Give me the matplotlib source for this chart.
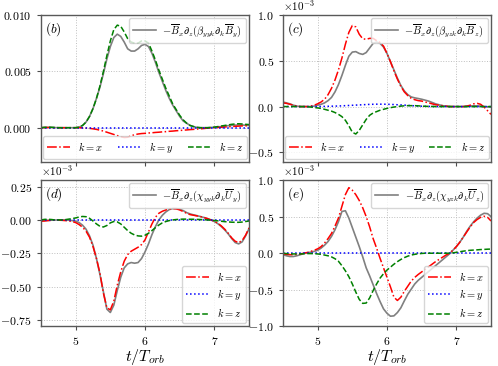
import numpy as np
import matplotlib
matplotlib.use("Agg")
import matplotlib.pyplot as plt
from matplotlib.ticker import MultipleLocator

plt.rcParams['font.family'] = 'serif'
plt.rcParams['font.serif'] = ['cmr10', 'DejaVu Serif']
plt.rcParams['mathtext.fontset'] = 'cm'
plt.rcParams['axes.formatter.use_mathtext'] = True

# time grid (t / T_orb), step 0.05
t = np.linspace(4.5, 7.5, 61)

# ---- panel (b)  (raw values)
b_total = [0.0, 0.00002, 0.00003, 0.00002, 0.00001, 0.0, 0.0, 0.0, 0.0, 0.0,
           0.0, 0.00005, 0.0002, 0.0005, 0.0010, 0.0017, 0.0026, 0.0036, 0.0048, 0.0061,
           0.0072, 0.0080, 0.0083, 0.0081, 0.0076, 0.0070, 0.0068, 0.0068, 0.0070, 0.0073,
           0.0074, 0.0072, 0.0066, 0.0058, 0.0049, 0.0041, 0.0033, 0.0026, 0.0020, 0.0015,
           0.0010, 0.0006, 0.0004, 0.0002, 0.0001, 0.00002, 0.0, 0.0, 0.0, 0.00002,
           0.00004, 0.00007, 0.0001, 0.00014, 0.00018, 0.00021, 0.00023, 0.00024, 0.00024, 0.00022,
           0.0002]
b_kx = [0.0, 0.00001, 0.00002, 0.00001, 0.0, 0.0, 0.0, 0.0, 0.0, 0.0,
        0.0, 0.0, -0.00001, -0.00003, -0.00006, -0.0001, -0.00015, -0.00022, -0.0003, -0.0004,
        -0.0005, -0.0006, -0.0007, -0.0008, -0.00087, -0.00085, -0.00072, -0.00062, -0.00056, -0.00052,
        -0.0005, -0.00047, -0.00045, -0.00042, -0.0004, -0.00037, -0.00035, -0.00032, -0.0003, -0.00027,
        -0.00025, -0.00022, -0.0002, -0.00017, -0.00015, -0.00012, -0.0001, -0.00007, -0.00004, -0.00002,
        0.0, 0.00002, 0.00004, 0.00006, 0.00008, 0.0001, 0.00012, 0.00014, 0.00016, 0.00017,
        0.00018]
b_ky = [0.0] * 61
b_kz = [0.0, 0.00003, 0.00005, 0.00004, 0.00002, 0.0, 0.0, 0.0, 0.0, 0.0,
        0.0, 0.00005, 0.0002, 0.0005, 0.0010, 0.0017, 0.0026, 0.0037, 0.0050, 0.0064,
        0.0077, 0.0087, 0.0091, 0.0090, 0.0085, 0.0079, 0.0076, 0.0075, 0.0075, 0.0077,
        0.0077, 0.0075, 0.0068, 0.0060, 0.0051, 0.0043, 0.0035, 0.0028, 0.0021, 0.0016,
        0.0011, 0.0007, 0.0004, 0.0002, 0.0001, 0.00003, 0.0, 0.0, 0.0, 0.00002,
        0.00005, 0.0001, 0.00015, 0.0002, 0.00025, 0.0003, 0.00033, 0.00035, 0.00033, 0.0003,
        0.00028]

# ---- panel (c)  (units of 1e-3)
c_total = [0.05, 0.04, 0.03, 0.015, 0.005, 0.0, 0.0, 0.0, 0.0, 0.005,
           0.015, 0.025, 0.04, 0.065, 0.10, 0.16, 0.24, 0.34, 0.45, 0.55,
           0.595, 0.60, 0.58, 0.57, 0.59, 0.64, 0.69, 0.705, 0.69, 0.65,
           0.58, 0.49, 0.40, 0.31, 0.23, 0.17, 0.13, 0.105, 0.095, 0.088,
           0.08, 0.07, 0.06, 0.045, 0.03, 0.02, 0.01, 0.005, 0.0, 0.0,
           0.0, 0.0, 0.0, 0.003, 0.006, 0.008, 0.008, 0.005, 0.0, -0.003,
           -0.005]
c_kx = [0.04, 0.035, 0.025, 0.015, 0.005, 0.0, 0.0, 0.0, 0.005, 0.015,
        0.03, 0.05, 0.08, 0.13, 0.20, 0.29, 0.40, 0.53, 0.68, 0.81,
        0.885, 0.87, 0.79, 0.74, 0.735, 0.745, 0.745, 0.72, 0.70, 0.66,
        0.58, 0.49, 0.39, 0.30, 0.22, 0.16, 0.12, 0.09, 0.075, 0.065,
        0.06, 0.05, 0.04, 0.03, 0.02, 0.015, 0.01, 0.005, 0.0, 0.0,
        0.0, 0.0, 0.0, 0.005, 0.015, 0.03, 0.035, 0.025, -0.005, -0.045,
        -0.085]
c_ky = [0.0, 0.0, 0.0, 0.0, 0.0, 0.0, 0.0, 0.0, 0.0, 0.0,
        0.0, 0.001, 0.002, 0.003, 0.004, 0.005, 0.006, 0.008, 0.01, 0.012,
        0.014, 0.016, 0.018, 0.02, 0.022, 0.024, 0.025, 0.026, 0.026, 0.026,
        0.025, 0.024, 0.022, 0.02, 0.018, 0.016, 0.013, 0.01, 0.008, 0.006,
        0.004, 0.003, 0.002, 0.001, 0.0, 0.0, 0.0, 0.0, 0.0, 0.0,
        0.0, 0.0, 0.0, 0.0, 0.0, 0.0, 0.0, 0.0, 0.0, 0.0,
        0.0]
c_kz = [0.0, 0.0, 0.0, 0.0, 0.0, 0.0, 0.0, -0.002, -0.005, -0.01,
        -0.015, -0.02, -0.03, -0.04, -0.05, -0.065, -0.085, -0.11, -0.15, -0.21,
        -0.28, -0.30, -0.26, -0.20, -0.14, -0.095, -0.07, -0.055, -0.04, -0.03,
        -0.02, -0.012, -0.005, 0.0, 0.005, 0.008, 0.01, 0.01, 0.01, 0.008,
        0.005, 0.003, 0.002, 0.001, 0.0, 0.0, 0.0, 0.0, 0.0, 0.0,
        0.0, 0.0, 0.0, 0.0, 0.0, 0.0, 0.0, 0.0, 0.0, 0.0,
        0.0]

# ---- panel (d)  (units of 1e-3)
d_total = [-0.005, -0.004, -0.003, -0.002, -0.001, 0.0, 0.0, 0.0, -0.002, -0.005,
           -0.01, -0.02, -0.04, -0.07, -0.12, -0.19, -0.29, -0.41, -0.54, -0.67,
           -0.695, -0.64, -0.53, -0.43, -0.36, -0.33, -0.32, -0.325, -0.32, -0.29,
           -0.24, -0.18, -0.11, -0.05, 0.0, 0.035, 0.06, 0.078, 0.085, 0.085,
           0.08, 0.07, 0.055, 0.045, 0.038, 0.032, 0.025, 0.018, 0.01, 0.0,
           -0.012, -0.028, -0.05, -0.075, -0.105, -0.14, -0.17, -0.18, -0.165, -0.12,
           -0.065]
d_kx = [-0.01, -0.008, -0.005, -0.003, -0.002, -0.002, -0.003, -0.005, -0.008, -0.012,
        -0.02, -0.035, -0.055, -0.085, -0.13, -0.2, -0.29, -0.4, -0.55, -0.66,
        -0.675, -0.61, -0.49, -0.39, -0.31, -0.26, -0.235, -0.22, -0.205, -0.185,
        -0.15, -0.09, -0.03, 0.02, 0.05, 0.065, 0.075, 0.082, 0.085, 0.083,
        0.075, 0.063, 0.05, 0.04, 0.035, 0.03, 0.025, 0.018, 0.01, 0.0,
        -0.01, -0.025, -0.045, -0.07, -0.1, -0.135, -0.16, -0.17, -0.155, -0.115,
        -0.06]
d_ky = [0.0] * 61
d_kz = [0.0, 0.004, 0.005, 0.003, 0.0, 0.0, 0.0, 0.002, 0.006, 0.01,
        0.015, 0.022, 0.026, 0.024, 0.012, -0.008, -0.03, -0.048, -0.053, -0.042,
        -0.022, -0.012, -0.015, -0.03, -0.055, -0.08, -0.1, -0.113, -0.12, -0.122,
        -0.115, -0.1, -0.08, -0.058, -0.038, -0.022, -0.012, -0.005, 0.0, 0.003,
        0.005, 0.006, 0.006, 0.005, 0.005, 0.004, 0.003, 0.002, 0.0, -0.002,
        -0.004, -0.007, -0.01, -0.013, -0.015, -0.017, -0.018, -0.018, -0.016, -0.012,
        -0.008]

# ---- panel (e)  (units of 1e-3)
e_total = [-0.02, -0.035, -0.045, -0.045, -0.035, -0.02, -0.005, 0.005, 0.015, 0.025,
           0.04, 0.07, 0.11, 0.16, 0.23, 0.32, 0.43, 0.57, 0.58, 0.48,
           0.35, 0.22, 0.09, -0.05, -0.2, -0.31, -0.43, -0.55, -0.66, -0.76,
           -0.82, -0.86, -0.855, -0.81, -0.745, -0.65, -0.56, -0.49, -0.42, -0.37,
           -0.33, -0.29, -0.25, -0.21, -0.17, -0.13, -0.09, -0.05, -0.01, 0.04,
           0.09, 0.15, 0.22, 0.3, 0.37, 0.43, 0.48, 0.52, 0.545, 0.54,
           0.5]
e_kx = [-0.01, -0.015, -0.02, -0.02, -0.015, -0.01, 0.0, 0.01, 0.025, 0.04,
        0.06, 0.09, 0.14, 0.2, 0.27, 0.37, 0.48, 0.64, 0.8, 0.895,
        0.86, 0.8, 0.72, 0.62, 0.5, 0.36, 0.2, 0.07, -0.07, -0.2,
        -0.33, -0.46, -0.6, -0.645, -0.6, -0.52, -0.45, -0.38, -0.33, -0.29,
        -0.255, -0.22, -0.185, -0.15, -0.115, -0.085, -0.055, -0.025, 0.0, 0.04,
        0.09, 0.15, 0.22, 0.29, 0.36, 0.42, 0.46, 0.49, 0.505, 0.49,
        0.44]
e_ky = [0.0] * 61
e_kz = [0.0, -0.005, -0.008, -0.01, -0.01, -0.01, -0.008, -0.005, -0.005, -0.006,
        -0.01, -0.015, -0.025, -0.035, -0.05, -0.075, -0.11, -0.17, -0.24, -0.32,
        -0.42, -0.53, -0.63, -0.685, -0.68, -0.61, -0.51, -0.42, -0.34, -0.28,
        -0.23, -0.19, -0.15, -0.115, -0.085, -0.06, -0.04, -0.025, -0.015, -0.008,
        -0.003, 0.0, 0.0, 0.0, 0.0, 0.0, 0.0, 0.0, 0.0, 0.005,
        0.012, 0.02, 0.028, 0.035, 0.04, 0.043, 0.046, 0.05, 0.052, 0.055,
        0.057]

panel_tags = ['$(b)$', '$(c)$', '$(d)$', '$(e)$']
total_labels = [r'$-\overline{B}_x\partial_z(\beta_{yyk}\partial_k\overline{B}_y)$',
                r'$-\overline{B}_x\partial_z(\beta_{yzk}\partial_k\overline{B}_z)$',
                r'$-\overline{B}_x\partial_z(\chi_{yyk}\partial_k\overline{U}_y)$',
                r'$-\overline{B}_x\partial_z(\chi_{yzk}\partial_k\overline{U}_z)$']
k_labels = ['$k=x$', '$k=y$', '$k=z$']
xticks = [5, 6, 7]

panels = [
    (b_total, b_kx, b_ky, b_kz, 1.0, (-0.003, 0.010), 0.005),
    (c_total, c_kx, c_ky, c_kz, 1e-3, (-0.6e-3, 1.0e-3), 0.5e-3),
    (d_total, d_kx, d_ky, d_kz, 1e-3, (-0.8e-3, 0.3e-3), 0.25e-3),
    (e_total, e_kx, e_ky, e_kz, 1e-3, (-1.0e-3, 1.0e-3), 0.5e-3),
]

fig, axes = plt.subplots(2, 2, figsize=(4.98, 3.66), dpi=100, sharex=True)
fig.subplots_adjust(left=0.0823, right=0.986, top=0.959, bottom=0.108,
                    wspace=0.163, hspace=0.126)

for i, (ax, (tot, kx, ky, kz, sc, ylim, ystep)) in enumerate(zip(axes.flat, panels)):
    h0, = ax.plot(t, np.array(tot) * sc, color='gray', lw=1.2)
    h1, = ax.plot(t, np.array(kx) * sc, color='red', ls='-.', lw=1.1)
    h2, = ax.plot(t, np.array(ky) * sc, color='blue', ls=':', lw=1.1)
    h3, = ax.plot(t, np.array(kz) * sc, color='green', ls='--', lw=1.1)
    ax.set_xlim(4.5, 7.5)
    ax.set_ylim(*ylim)
    ax.set_xticks(xticks)
    ax.yaxis.set_major_locator(MultipleLocator(ystep))
    if sc != 1.0:
        ax.ticklabel_format(axis='y', style='sci', scilimits=(-3, -3), useMathText=True)
        ax.yaxis.get_offset_text().set_fontsize(8)
    ax.grid(True, color='0.75', ls=':', lw=0.7)
    ax.tick_params(direction='out', length=3, labelsize=8.5, color='0.3')
    for s in ax.spines.values():
        s.set_color('0.35')
        s.set_linewidth(1.0)
    ax.text(0.02, 0.965, panel_tags[i], transform=ax.transAxes, ha='left', va='top', fontsize=9.5)
    leg1 = ax.legend([h0], [total_labels[i]], loc='upper right', fontsize=7.5,
                     handlelength=2.2, borderaxespad=0.3, handletextpad=0.6)
    ax.add_artist(leg1)
    if i < 2:
        ax.legend([h1, h2, h3], k_labels, loc='lower left', bbox_to_anchor=(0.01, 0.015, 0.98, 0.1),
                  mode='expand', ncol=3, fontsize=7.5, handlelength=2.2, borderaxespad=0.0)
    else:
        ax.legend([h1, h2, h3], k_labels, loc='lower right', fontsize=7.5,
                  handlelength=2.2, borderaxespad=0.3, labelspacing=0.4)
    if i >= 2:
        ax.set_xlabel(r'$t/T_{orb}$', fontsize=11.5, labelpad=0)

fig.savefig('out.png', dpi=100)
